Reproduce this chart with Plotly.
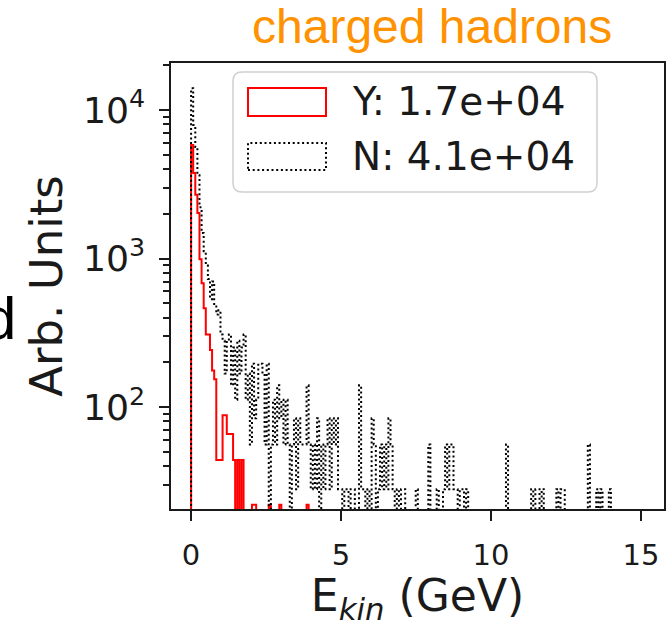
import numpy as np
import plotly.graph_objects as go

# ---------------- data ----------------
BIN_WIDTH = 0.07          # GeV, histogram bin width (bins start at 0)
Y_WEIGHT = 22.0           # arb. units per entry, sample "Y"
N_WEIGHT = 28.0           # arb. units per entry, sample "N"

y_label = "Y: 1.7e+04"
n_label = "N: 4.1e+04"

# entries per bin, sample Y (red, solid)
y_counts = [264, 171, 122, 92, 45, 31, 21, 14, 14, 11,
            8, 7, 2, 2, 2, 4, 4, 3, 3, 3,
            2, 0, 2, 0, 2, 0, 0, 0, 0, 1,
            1, 0, 0, 0, 0, 0, 0, 1, 0, 0,
            0, 0, 1, 0, 0, 0, 0, 0, 0, 0,
            0, 0, 0, 0, 0, 1, 0]

# entries per bin, sample N (black, dotted)
n_counts = [500, 283, 201, 130, 79, 53, 40, 32, 26, 19,
            25, 17, 15, 16, 11, 10, 6, 10, 11, 5,
            9, 4, 10, 6, 9, 11, 4, 6, 2, 7,
            3, 4, 7, 7, 6, 2, 7, 0, 2, 4,
            2, 5, 3, 4, 2, 4, 2, 0, 2, 3,
            1, 3, 2, 2, 2, 5, 2, 1, 2, 1,
            3, 0, 2, 1, 2, 3, 1, 3, 2, 3,
            1, 1, 0, 1, 1, 0, 1, 1, 0, 0,
            5, 1, 1, 0, 1, 0, 3, 2, 0, 1,
            2, 1, 2, 1, 3, 2, 1, 0, 1, 0,
            1, 1, 0, 0, 0, 0, 0, 1, 0, 0,
            0, 0, 0, 2, 0, 0, 0, 1, 0, 0,
            1, 2, 1, 2, 2, 1, 1, 0, 1, 1,
            0, 1, 0, 0, 0, 0, 0, 0, 0, 0,
            0, 0, 0, 0, 0, 0, 0, 0, 0, 0,
            2, 0, 0, 0, 0, 0, 0, 0, 0, 0,
            0, 0, 1, 0, 1, 1, 0, 1, 0, 0,
            0, 0, 0, 0, 1, 0, 1, 1, 0, 0,
            0, 0, 0, 0, 0, 0, 0, 0, 0, 2,
            0, 0, 0, 1, 0, 1, 0, 0, 0, 1,
            0, 0, 0]

x_ticks = [0, 5, 10, 15]
X_RANGE = [-0.67, 15.77]
Y_RANGE = [20.6, 20700]

# ---------------- geometry / styling ----------------
W, H = 667, 627
ML, MR, MT, MB = 171, 3, 63, 118
PW, PH = W - ML - MR, H - MT - MB
FLOOR = 1e-3   # empty bins drop below the log axis (as matplotlib step outline to 0)


def px(xp):
    return (xp - ML) / PW


def py(yp):
    return (H - MB - yp) / PH


def step_xy(counts, weight):
    c = np.asarray(counts, dtype=float)
    edges = np.arange(len(c) + 1) * BIN_WIDTH
    vals = np.where(c > 0, c * weight, FLOOR)
    x = np.concatenate([[edges[0]], edges[:-1], [edges[-1]]])
    y = np.concatenate([[FLOOR], vals, [FLOOR]])
    return x, y


def rounded(x0, y0, x1, y1, r):
    return (f"M{px(x0 + r)},{py(y0)} L{px(x1 - r)},{py(y0)} "
            f"Q{px(x1)},{py(y0)} {px(x1)},{py(y0 + r)} "
            f"L{px(x1)},{py(y1 - r)} Q{px(x1)},{py(y1)} {px(x1 - r)},{py(y1)} "
            f"L{px(x0 + r)},{py(y1)} Q{px(x0)},{py(y1)} {px(x0)},{py(y1 - r)} "
            f"L{px(x0)},{py(y0 + r)} Q{px(x0)},{py(y0)} {px(x0 + r)},{py(y0)} Z")


DOT = "2px,2.7px"
FONT = "DejaVu Sans"
INK = "#1a1a1a"

fig = go.Figure()
xy, yy = step_xy(y_counts, Y_WEIGHT)
fig.add_trace(go.Scatter(x=xy, y=yy, mode="lines", line_shape="hv",
                         line=dict(color="#ff0000", width=2, simplify=False),
                         name=y_label, showlegend=False, hoverinfo="skip"))
xn, yn = step_xy(n_counts, N_WEIGHT)
fig.add_trace(go.Scatter(x=xn, y=yn, mode="lines", line_shape="hv",
                         line=dict(color="#000000", width=2, dash=DOT, simplify=False),
                         name=n_label, showlegend=False, hoverinfo="skip"))

axis_common = dict(showline=True, mirror=True, linecolor=INK, linewidth=2,
                   showgrid=False, zeroline=False, ticks="outside",
                   tickcolor=INK, tickwidth=2, ticklen=10, automargin=False,
                   tickfont=dict(family=FONT, size=29, color=INK))

fig.update_xaxes(range=X_RANGE, tickvals=x_ticks, ticklabelstandoff=9,
                 title=dict(text="E<sub><i>kin</i></sub> (GeV)",
                            font=dict(family=FONT, size=44, color=INK), standoff=12),
                 **axis_common)
fig.update_yaxes(type="log", range=[np.log10(Y_RANGE[0]), np.log10(Y_RANGE[1])],
                 dtick=1, exponentformat="power", ticklabelstandoff=8,
                 minor=dict(ticks="outside", ticklen=6, tickwidth=1.5, tickcolor=INK, dtick="D1"),
                 title=dict(text="Arb. Units",
                            font=dict(family=FONT, size=45, color=INK), standoff=6),
                 **axis_common)

shapes = [
    dict(type="path", xref="paper", yref="paper", layer="above",
         path=rounded(233, 72, 597, 192, 9),
         line=dict(color="#d0d0d0", width=1.5), fillcolor="rgba(255,255,255,0.85)"),
    dict(type="rect", xref="paper", yref="paper", layer="above",
         x0=px(248), x1=px(326), y0=py(116), y1=py(88),
         line=dict(color="#ff0000", width=2), fillcolor="rgba(0,0,0,0)"),
    dict(type="rect", xref="paper", yref="paper", layer="above",
         x0=px(248), x1=px(326), y0=py(170), y1=py(143),
         line=dict(color="#000000", width=2, dash=DOT), fillcolor="rgba(0,0,0,0)"),
]

annotations = [
    dict(text=y_label, x=px(350), y=py(101), xref="paper", yref="paper",
         xanchor="left", yanchor="middle", showarrow=False,
         font=dict(family=FONT, size=39, color=INK)),
    dict(text=n_label, x=px(350), y=py(156), xref="paper", yref="paper",
         xanchor="left", yanchor="middle", showarrow=False,
         font=dict(family=FONT, size=39, color=INK)),
    dict(text="charged hadrons", x=px(432), y=py(27), xref="paper", yref="paper",
         xanchor="center", yanchor="middle", showarrow=False,
         font=dict(family="Liberation Sans", size=48, color="#ff9200")),
    dict(text="d", x=px(18), y=py(318), xref="paper", yref="paper",
         xanchor="right", yanchor="middle", showarrow=False,
         font=dict(family="Liberation Sans", size=60, color="#000000")),
]

fig.update_layout(width=W, height=H,
                  margin=dict(l=ML, r=MR, t=MT, b=MB, pad=0, autoexpand=False),
                  plot_bgcolor="white", paper_bgcolor="white",
                  shapes=shapes, annotations=annotations, showlegend=False)

fig.write_html("out.html", config={"displayModeBar": False},
               post_script="document.body.style.margin='0px';"
                           "document.body.style.overflow='hidden';")
